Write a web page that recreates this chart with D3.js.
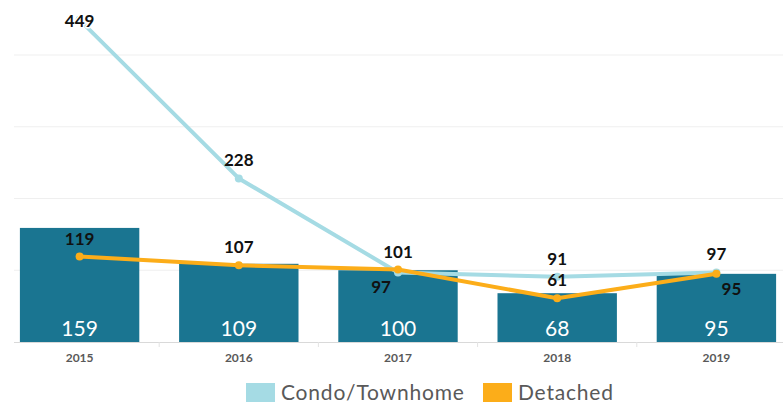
<!DOCTYPE html>
<html>
<head>
<meta charset="utf-8">
<script src="https://cdn.jsdelivr.net/npm/d3@7"></script>
<style>
  body { margin: 0; background: #fff; }
  svg { display: block; font-family: Lato, "Open Sans", sans-serif; }
</style>
</head>
<body>
<div class="chart"></div>
<script>
// 資料
const years = ['2015', '2016', '2017', '2018', '2019']
const totals = [159, 109, 100, 68, 95]
const condo = [449, 228, 97, 91, 97]
const detached = [119, 107, 101, 61, 95]
const condoLabelPos = ['above', 'above', 'below', 'above', 'above']
const detachedLabelPos = ['above', 'above', 'above', 'above', 'below']
const gridTicks = [100, 200, 300, 400]

const width = 783, height = 405
const baseY = 342

const svg = d3.select('.chart').append('svg')
    .attr('width', width)
    .attr('height', height)

const xScale = d3.scaleBand()
    .domain(years)
    .range([0, 796])
    .paddingInner(0.25)
    .paddingOuter(0.125)

const yScale = d3.scaleLinear()
    .domain([0, 400])
    .range([baseY, 55])

// 格線
svg.append('g')
    .selectAll('line')
    .data(gridTicks)
    .join('line')
    .attr('x1', 14).attr('x2', width)
    .attr('y1', d => yScale(d)).attr('y2', d => yScale(d))
    .attr('stroke', '#efefef')
    .attr('stroke-width', 1)

// 長條
svg.append('g')
    .selectAll('rect')
    .data(years)
    .join('rect')
    .attr('x', d => xScale(d))
    .attr('y', (d, i) => yScale(totals[i]))
    .attr('width', xScale.bandwidth())
    .attr('height', (d, i) => baseY - yScale(totals[i]))
    .attr('fill', '#1a7591')

svg.append('g')
    .selectAll('text')
    .data(years)
    .join('text')
    .attr('x', d => xScale(d) + xScale.bandwidth() / 2)
    .attr('y', baseY - 6)
    .attr('text-anchor', 'middle')
    .attr('fill', '#fff')
    .style('font-size', '21px')
    .text((d, i) => totals[i])

// X 軸
svg.append('line')
    .attr('x1', 14).attr('x2', width)
    .attr('y1', baseY + 0.5).attr('y2', baseY + 0.5)
    .attr('stroke', '#d9d9d9')

svg.append('g')
    .selectAll('line')
    .data(years.slice(1))
    .join('line')
    .attr('x1', d => xScale(d) - xScale.step() * 0.125)
    .attr('x2', d => xScale(d) - xScale.step() * 0.125)
    .attr('y1', baseY).attr('y2', baseY + 5)
    .attr('stroke', '#e3e3e3')

svg.append('g')
    .selectAll('text')
    .data(years)
    .join('text')
    .attr('x', d => xScale(d) + xScale.bandwidth() / 2)
    .attr('y', baseY + 20)
    .attr('text-anchor', 'middle')
    .attr('fill', '#595959')
    .style('font-size', '12px')
    .style('font-weight', 'bold')
    .text(d => d)

// 折線
const cx = d => xScale(d) + xScale.bandwidth() / 2
function drawSeries(values, color) {
    const line = d3.line()
        .x((d, i) => cx(years[i]))
        .y(d => yScale(d))
    svg.append('path')
        .datum(values)
        .attr('d', line)
        .attr('fill', 'none')
        .attr('stroke', color)
        .attr('stroke-width', 4)
        .attr('stroke-linejoin', 'round')
    svg.append('g')
        .selectAll('circle')
        .data(values)
        .join('circle')
        .attr('cx', (d, i) => cx(years[i]))
        .attr('cy', d => yScale(d))
        .attr('r', 4)
        .attr('fill', color)
}
function drawLabels(values, pos) {
    // 標籤太高時往下夾住，並加白色描邊蓋住線
    svg.append('g')
        .selectAll('text')
        .data(values)
        .join('text')
        .attr('x', (d, i) => cx(years[i]) + (pos[i] === 'below' ? (i === 4 ? 15 : -17) : 0))
        .attr('y', (d, i) => pos[i] === 'below' ? yScale(d) + 21 : Math.max(yScale(d) - 12, 27))
        .attr('text-anchor', 'middle')
        .attr('fill', '#111')
        .attr('stroke', d => yScale(d) - 12 < 27 ? '#fff' : 'none')
        .attr('stroke-width', 3)
        .attr('stroke-linejoin', 'round')
        .attr('paint-order', 'stroke')
        .style('font-size', '17px')
        .style('font-weight', 'bold')
        .text(d => d)
}
drawSeries(condo, '#a5dbe4')
drawSeries(detached, '#fcad19')
drawLabels(condo, condoLabelPos)
drawLabels(detached, detachedLabelPos)

// 圖例
const legend = [
    { name: 'Condo/Townhome', color: '#a5dbe4', x: 246 },
    { name: 'Detached', color: '#fcad19', x: 483 }
]
const lg = svg.append('g').selectAll('g').data(legend).join('g')
    .attr('transform', d => `translate(${d.x},383)`)
lg.append('rect')
    .attr('width', 29).attr('height', 19)
    .attr('fill', d => d.color)
lg.append('text')
    .attr('x', 35).attr('y', 17)
    .attr('fill', '#595959')
    .style('font-size', '21px')
    .style('letter-spacing', '0.8px')
    .text(d => d.name)
</script>
</body>
</html>
